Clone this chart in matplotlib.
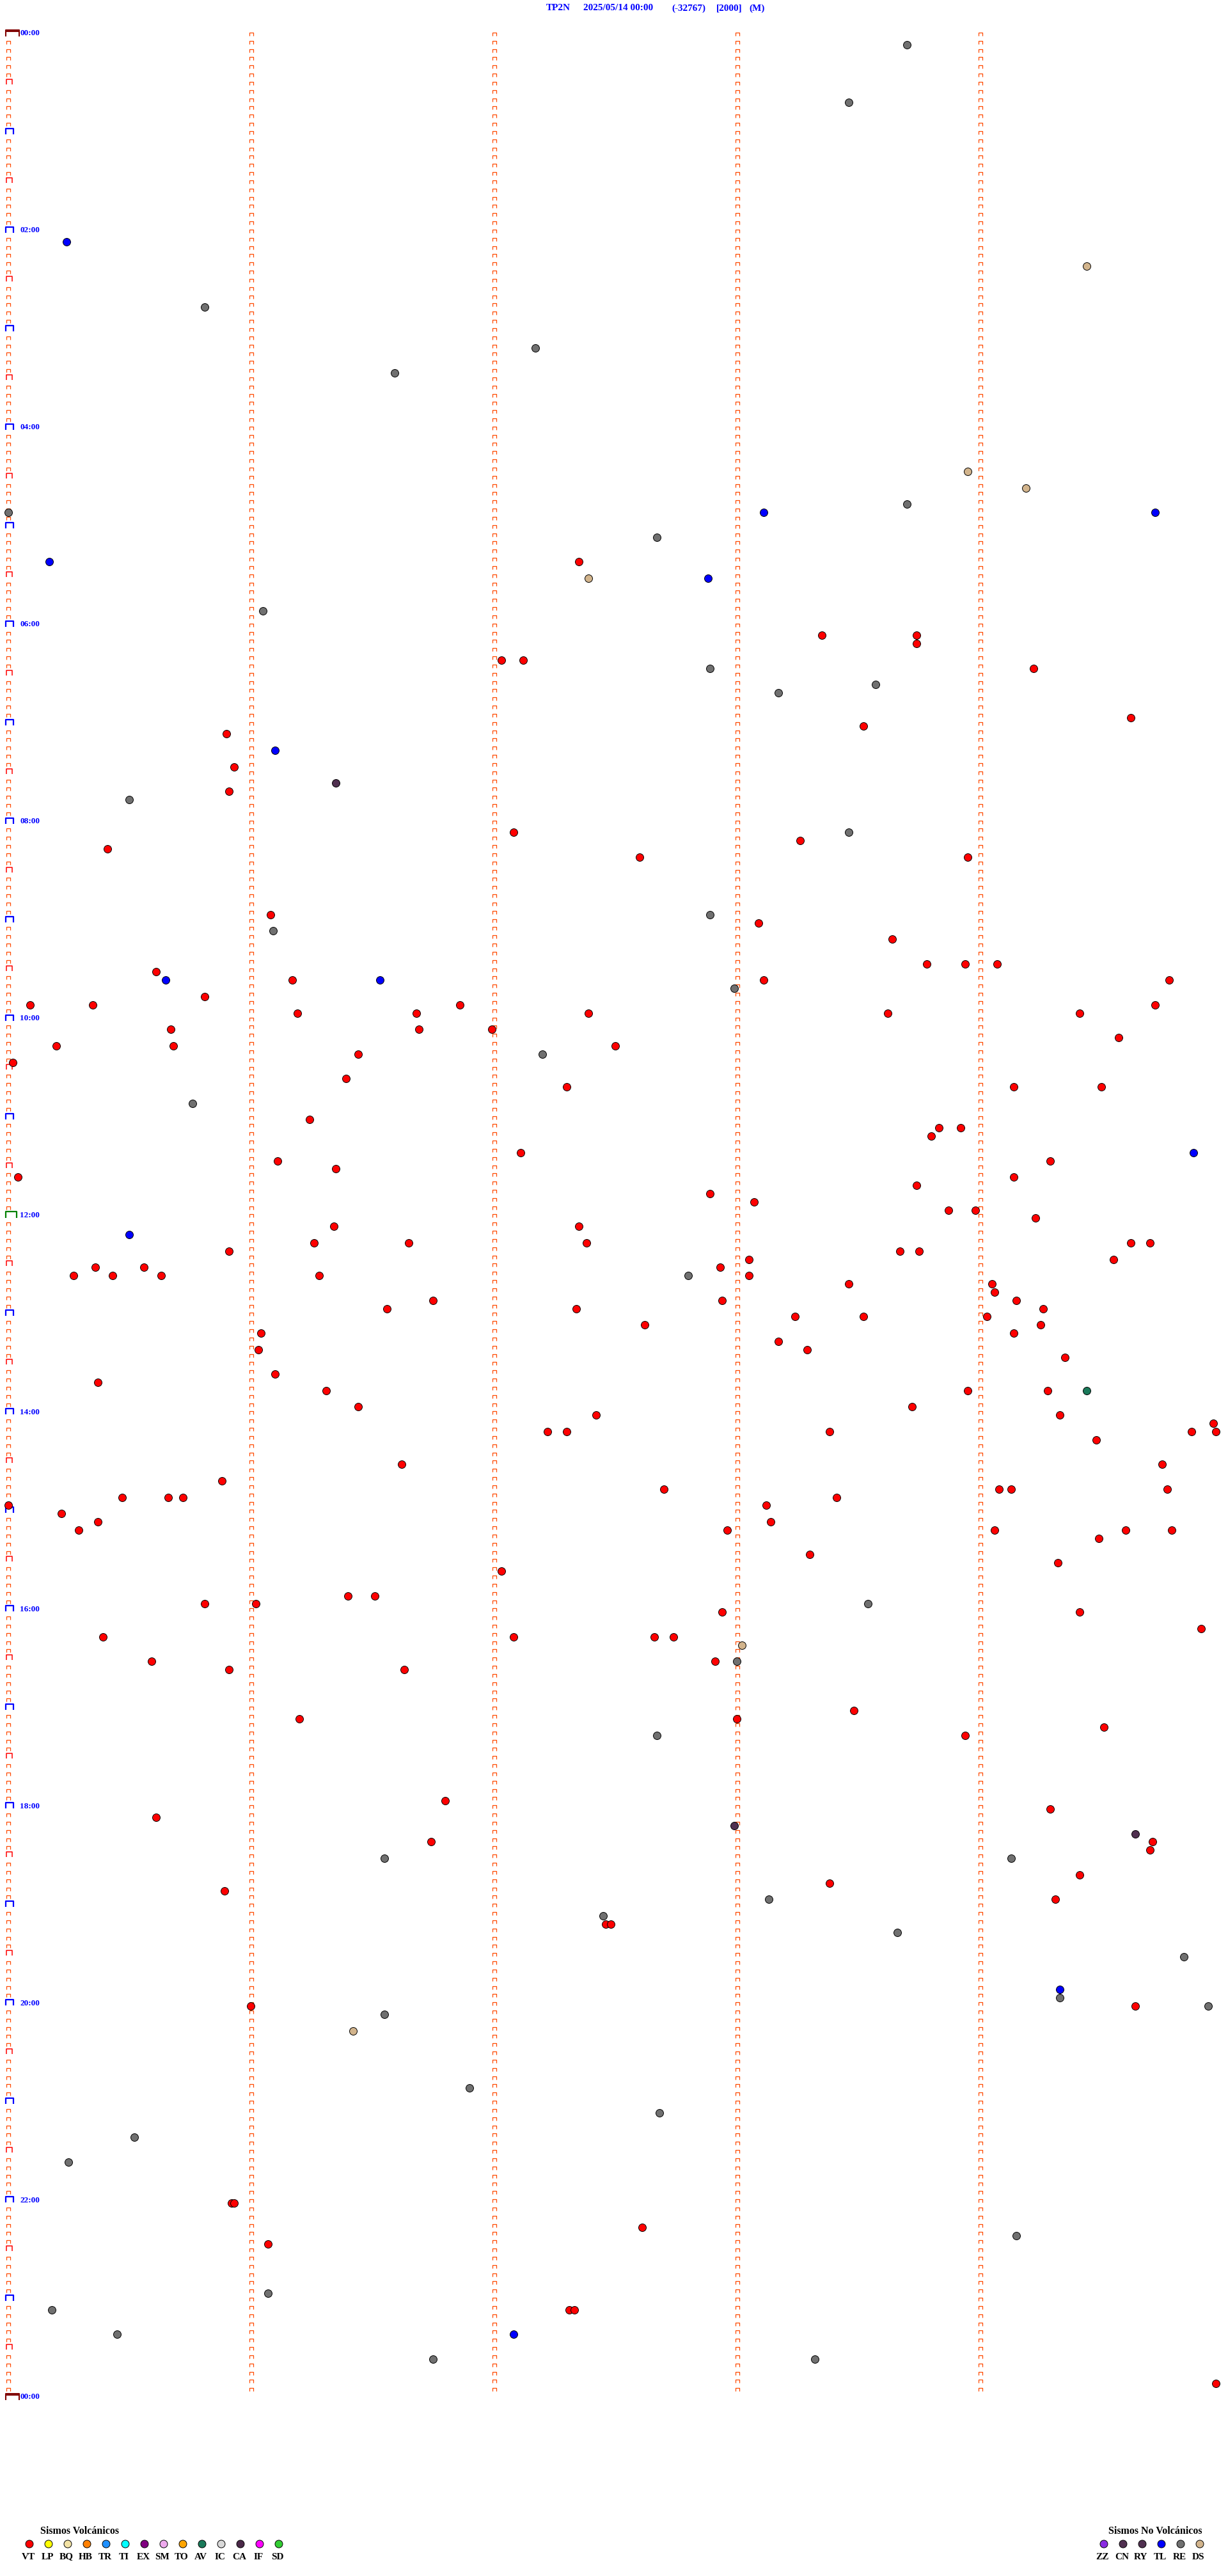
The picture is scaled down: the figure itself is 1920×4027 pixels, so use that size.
import numpy as np
import matplotlib.pyplot as plt
from matplotlib.collections import LineCollection

# event times, minutes after 00:00, grouped by type
vt = [322.35, 368.35, 368.74, 373.74, 382.03, 382.12, 389.22, 419.62, 423.52, 425.90,
      445.93, 460.91, 487.08, 493.26, 495.41, 502.60, 503.95, 536.08, 543.09, 553.64,
      568.78, 568.94, 569.07, 570.61,
      576.17, 578.11, 579.78, 585.81, 590.09, 590.35, 591.86, 594.72, 596.19, 596.68,
      597.39, 598.62, 599.41, 605.67, 606.69, 606.99, 614.57, 615.20, 615.68, 617.50,
      621.44, 625.02, 636.39, 642.30, 644.14, 644.50, 661.24, 668.83, 668.92, 673.80,
      682.11, 686.11, 689.29, 691.35, 695.04, 699.14, 703.74, 707.89, 713.07, 718.87,
      718.98, 724.23, 726.34, 727.35, 736.26, 736.65, 737.38, 739.62, 739.70, 740.91,
      743.67, 743.75, 748.05, 749.55, 750.36, 750.56, 752.93, 755.27, 755.43, 755.63,
      756.28, 758.05, 763.46, 764.05, 769.06, 771.75, 772.94, 774.15, 776.56, 777.34,
      779.26, 783.24, 783.52, 784.03, 787.62, 789.25, 791.04, 794.14, 798.17, 801.03,
      803.29, 809.35, 816.10, 820.37, 826.31, 828.95, 829.28, 836.44, 838.72, 842.42,
      844.33, 849.96, 852.22, 852.30, 853.38, 854.87, 854.97, 859.48,
      871.62, 874.75, 880.88, 887.70, 889.08, 889.13, 889.77, 890.47, 890.66, 890.72,
      893.41, 895.00, 898.12, 900.22, 905.37, 908.14, 910.29, 912.96, 914.06, 914.60,
      914.79, 919.49, 928.30, 934.32, 937.03, 951.40, 951.51, 955.81, 956.02, 962.94,
      964.41, 974.91, 975.39, 977.08, 977.66, 977.74, 990.59, 992.91, 995.91, 996.63,
      1023.48, 1026.20, 1028.00, 1034.51, 1038.94, 1076.80, 1084.29, 1085.61, 1101.74,
      1104.71, 1109.70, 1124.41, 1128.38, 1130.89, 1139.31,
      1152.46, 1152.48, 1201.00, 1204.64, 1320.92, 1320.93, 1337.61, 1346.07, 1387.31,
      1387.33, 1434.97]
re_ = [8.70, 43.46, 165.81, 192.17, 206.59, 288.70, 290.00, 307.67, 351.05, 387.89,
       398.57, 403.17, 465.50, 488.46, 537.89, 546.09, 582.99, 622.20, 650.76, 757.80,
       958.54, 993.00, 1037.67, 1111.55, 1114.13, 1138.13, 1147.45, 1158.66, 1174.84,
       1199.33, 1204.94, 1206.55, 1251.90, 1267.68, 1280.52, 1295.25, 1344.15, 1376.07,
       1385.18, 1400.45, 1416.75, 1418.32]
tl = [125.24, 293.11, 294.72, 320.17, 332.88, 436.10, 575.65, 576.53, 684.88, 730.50,
      1194.33, 1402.08]
ds = [144.44, 268.95, 279.19, 332.39, 983.02, 1216.42]
ry = [456.35, 1092.99, 1099.64]
av = [829.44]

volc_codes = ['VT', 'LP', 'BQ', 'HB', 'TR', 'TI', 'EX', 'SM', 'TO', 'AV', 'IC', 'CA', 'IF', 'SD']
volc_colors = ['#ff0000', '#ffff00', '#f2e2a4', '#ff8000', '#1e90ff', '#00ffff', '#800080',
               '#eeaaee', '#ffa500', '#1a7a5a', '#d8d8d8', '#4a2848', '#ff00ff', '#32cd32']
novolc_codes = ['ZZ', 'CN', 'RY', 'TL', 'RE', 'DS']
novolc_colors = ['#8a2be2', '#503050', '#503050', '#0000ff', '#707070', '#d2b48c']

title_parts = ['TP2N', '2025/05/14 00:00', '(-32767)', '[2000]', '(M)']
hour_labels = ['%02d:00' % (h % 24) for h in range(0, 25, 2)]

W, H = 1920, 4027
NROWS = 288          # 5 minute lines
PX = 1 / 379.9       # one pixel in minutes
PY = 1 / 12.83       # one pixel in rows
SERIF = 'Liberation Serif'

fig = plt.figure(figsize=(W / 100, H / 100), dpi=100)

lax = fig.add_axes([0, 0, 1, 1])
lax.set_xlim(0, W)
lax.set_ylim(H, 0)
lax.axis('off')

ax = fig.add_axes([12.5 / W, 1 - 3742 / H, 1899.5 / W, 3695 / H])
ax.set_xlim(0, 5)
ax.set_ylim(NROWS, 0)
ax.axis('off')


def cap(c, k, left, right, top, bottom):
    return [(c + left * PX, k + bottom * PY), (c + left * PX, k + top * PY),
            (c + right * PX, k + top * PY), (c + right * PX, k + bottom * PY)]


small = [cap(c, k, -2.5, 3.5, 4, 9) for c in range(5) for k in range(NROWS)
         if not (c == 0 and k % 6 == 0)]
ax.add_collection(LineCollection(small, colors='#ff4a00', linewidths=0.9, clip_on=False))

half = [cap(0, k, -2.5, 6.5, 0, 8) for k in range(6, NROWS, 12)]
ax.add_collection(LineCollection(half, colors='#ff0000', linewidths=1.1, clip_on=False))

hours = [cap(0, k, -3.5, 8.5, 0, 9) for k in range(12, NROWS, 12) if k != 144]
ax.add_collection(LineCollection(hours, colors='#0000ff', linewidths=1.6, clip_on=False))

ax.add_collection(LineCollection([cap(0, 144, -3.5, 13.5, 0, 10)], colors='#008000',
                                 linewidths=1.6, clip_on=False))

days = [cap(0, k, -3.5, 17.5, 0, 10) for k in (0, NROWS)]
ax.add_collection(LineCollection(days, colors='#800000', linewidths=1.5, clip_on=False))
for k in (0, NROWS):
    ax.plot([-3.5 * PX, 17.5 * PX], [k + 0.8 * PY, k + 0.8 * PY], color='#800000',
            lw=2.2, solid_capstyle='butt', clip_on=False)

for i, lab in enumerate(hour_labels):
    ax.text(19 * PX, i * 24 + 5.5 * PY, lab, color='#0000ff', fontsize=9.5,
            family=SERIF, weight='bold', ha='left', va='center')

events = [(vt, 'VT'), (re_, 'RE'), (tl, 'TL'), (ds, 'DS'), (ry, 'RY'), (av, 'AV')]
col = dict(zip(volc_codes + novolc_codes, volc_colors + novolc_colors))
for times, code in events:
    t = np.array(times)
    row = np.floor(t / 5)
    ax.scatter(t - 5 * row, row + 0.77, s=74, c=col[code], edgecolors='black',
               linewidths=0.7, zorder=3, clip_on=False)

# header
for x, part in zip([854, 912, 1050, 1120, 1171], title_parts):
    lax.text(x, 13, part, color='#0000ff', fontsize=11, family=SERIF, weight='bold',
             ha='left', va='center')

# legends
lax.text(63, 3957, 'Sismos Volcánicos', fontsize=11.5, family=SERIF, weight='bold',
         ha='left', va='center')
vx = 46 + 30 * np.arange(len(volc_codes))
lax.scatter(vx, np.full(len(vx), 3977), s=74, c=volc_colors, edgecolors='black', linewidths=0.7)
for x, code in zip(vx, volc_codes):
    lax.text(x - 2, 3997, code, fontsize=11, family=SERIF, weight='bold', ha='center', va='center')

lax.text(1733, 3957, 'Sismos No Volcánicos', fontsize=11.5, family=SERIF, weight='bold',
         ha='left', va='center')
nx = 1726 + 30 * np.arange(len(novolc_codes))
lax.scatter(nx, np.full(len(nx), 3977), s=74, c=novolc_colors, edgecolors='black', linewidths=0.7)
for x, code in zip(nx, novolc_codes):
    lax.text(x - 2, 3997, code, fontsize=11, family=SERIF, weight='bold', ha='center', va='center')

fig.savefig('out.png', dpi=100, facecolor='white')
